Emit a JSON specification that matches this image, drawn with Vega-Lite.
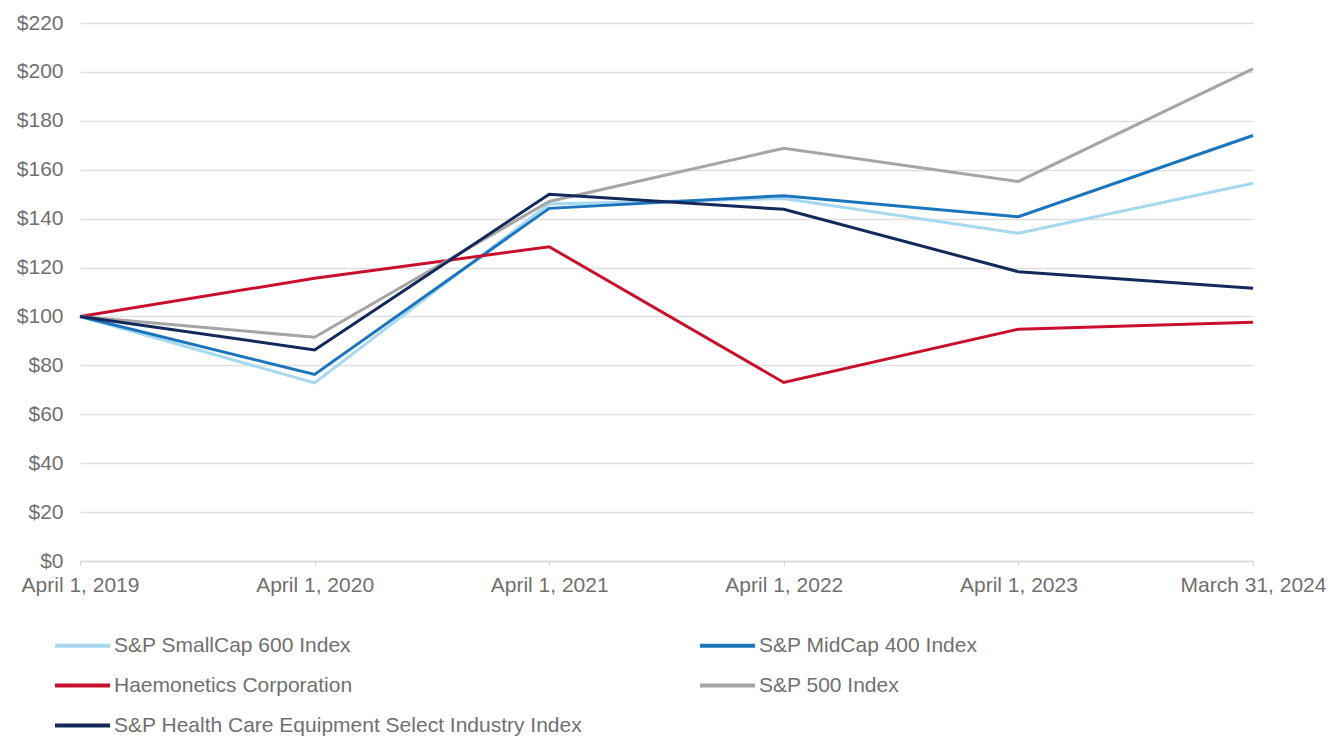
{
  "$schema": "https://vega.github.io/schema/vega-lite/v6.json",
  "autosize": "none",
  "width": 1173,
  "height": 538,
  "padding": {"left": 80, "top": 23, "right": 78, "bottom": 175},
  "background": "white",
  "config": {
    "view": {"stroke": null},
    "font": "Liberation Sans"
  },
  "data": {
    "values": [
      {"date": "April 1, 2019", "series": "S&P SmallCap 600 Index", "value": 100},
      {"date": "April 1, 2020", "series": "S&P SmallCap 600 Index", "value": 72.8},
      {"date": "April 1, 2021", "series": "S&P SmallCap 600 Index", "value": 146},
      {"date": "April 1, 2022", "series": "S&P SmallCap 600 Index", "value": 148.2},
      {"date": "April 1, 2023", "series": "S&P SmallCap 600 Index", "value": 134},
      {"date": "March 31, 2024", "series": "S&P SmallCap 600 Index", "value": 154.5},
      {"date": "April 1, 2019", "series": "S&P MidCap 400 Index", "value": 100},
      {"date": "April 1, 2020", "series": "S&P MidCap 400 Index", "value": 76.3},
      {"date": "April 1, 2021", "series": "S&P MidCap 400 Index", "value": 144.2},
      {"date": "April 1, 2022", "series": "S&P MidCap 400 Index", "value": 149.4},
      {"date": "April 1, 2023", "series": "S&P MidCap 400 Index", "value": 140.8},
      {"date": "March 31, 2024", "series": "S&P MidCap 400 Index", "value": 174},
      {"date": "April 1, 2019", "series": "Haemonetics Corporation", "value": 100},
      {"date": "April 1, 2020", "series": "Haemonetics Corporation", "value": 115.6},
      {"date": "April 1, 2021", "series": "Haemonetics Corporation", "value": 128.5},
      {"date": "April 1, 2022", "series": "Haemonetics Corporation", "value": 73},
      {"date": "April 1, 2023", "series": "Haemonetics Corporation", "value": 94.8},
      {"date": "March 31, 2024", "series": "Haemonetics Corporation", "value": 97.6},
      {"date": "April 1, 2019", "series": "S&P 500 Index", "value": 100},
      {"date": "April 1, 2020", "series": "S&P 500 Index", "value": 91.5},
      {"date": "April 1, 2021", "series": "S&P 500 Index", "value": 147},
      {"date": "April 1, 2022", "series": "S&P 500 Index", "value": 168.8},
      {"date": "April 1, 2023", "series": "S&P 500 Index", "value": 155.2},
      {"date": "March 31, 2024", "series": "S&P 500 Index", "value": 201.2},
      {"date": "April 1, 2019", "series": "S&P Health Care Equipment Select Industry Index", "value": 100},
      {"date": "April 1, 2020", "series": "S&P Health Care Equipment Select Industry Index", "value": 86.3},
      {"date": "April 1, 2021", "series": "S&P Health Care Equipment Select Industry Index", "value": 150},
      {"date": "April 1, 2022", "series": "S&P Health Care Equipment Select Industry Index", "value": 143.8},
      {"date": "April 1, 2023", "series": "S&P Health Care Equipment Select Industry Index", "value": 118.3},
      {"date": "March 31, 2024", "series": "S&P Health Care Equipment Select Industry Index", "value": 111.5}
    ]
  },
  "mark": {"type": "line", "strokeWidth": 3, "strokeJoin": "miter"},
  "encoding": {
    "x": {
      "field": "date",
      "type": "nominal",
      "sort": null,
      "scale": {"type": "point", "padding": 0},
      "axis": {
        "title": null,
        "labelAngle": 0,
        "labelFontSize": 21,
        "labelColor": "#707070",
        "labelPadding": 8,
        "domainColor": "#d9d9d9",
        "domainWidth": 1.5,
        "tickColor": "#d9d9d9",
        "tickSize": 5,
        "grid": false
      }
    },
    "y": {
      "field": "value",
      "type": "quantitative",
      "scale": {"domain": [0, 220], "nice": false},
      "axis": {
        "title": null,
        "values": [0, 20, 40, 60, 80, 100, 120, 140, 160, 180, 200, 220],
        "labelExpr": "'$' + datum.value",
        "labelFontSize": 21,
        "labelColor": "#707070",
        "labelPadding": 17,
        "domain": false,
        "ticks": false,
        "grid": true,
        "gridColor": "#dedede",
        "gridWidth": 1.5
      }
    },
    "color": {
      "field": "series",
      "type": "nominal",
      "scale": {
        "domain": ["S&P SmallCap 600 Index", "S&P MidCap 400 Index", "Haemonetics Corporation", "S&P 500 Index", "S&P Health Care Equipment Select Industry Index"],
        "range": ["#a6d8f0", "#1b75bc", "#c8102e", "#a5a5a5", "#14285a"]
      },
      "legend": {
        "title": null,
        "orient": "none",
        "legendX": -27,
        "legendY": 593,
        "direction": "horizontal",
        "columns": 2,
        "columnPadding": 109,
        "rowPadding": -13,
        "padding": 0,
        "symbolType": "stroke",
        "symbolSize": 3025,
        "symbolStrokeWidth": 4,
        "labelFontSize": 21,
        "labelColor": "#707070",
        "labelOffset": 2,
        "labelLimit": 0
      }
    }
  }
}
